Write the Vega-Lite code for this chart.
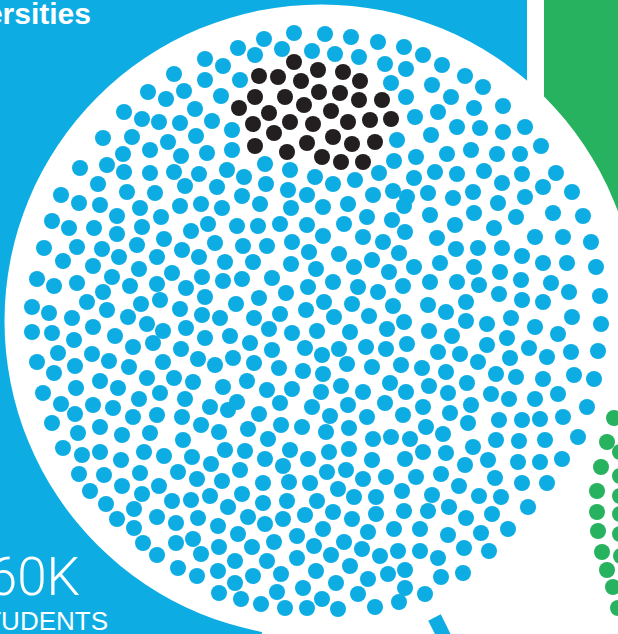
{
"$schema":"https://vega.github.io/schema/vega-lite/v6.json",
"width":618,"height":634,"padding":0,"autosize":{"type":"none"},
"background":"white",
"config":{"view":{"stroke":null}},
"datasets":{
"panels":[{"panel":"universities","x0":0,"x1":527,"y0":0,"y1":634},{"panel":"other","x0":544,"x1":618,"y0":0,"y1":320}],
"black":[{"x":294,"y":62},{"x":318,"y":70},{"x":343,"y":72},{"x":259,"y":76},{"x":278,"y":77},{"x":301,"y":81},{"x":360,"y":81},{"x":319,"y":92},{"x":340,"y":93},{"x":255,"y":97},{"x":285,"y":97},{"x":359,"y":100},{"x":382,"y":100},{"x":304,"y":105},{"x":239,"y":108},{"x":331,"y":111},{"x":269,"y":113},{"x":290,"y":122},{"x":313,"y":124},{"x":348,"y":122},{"x":370,"y":120},{"x":391,"y":119},{"x":253,"y":124},{"x":274,"y":133},{"x":333,"y":137},{"x":307,"y":143},{"x":352,"y":144},{"x":375,"y":142},{"x":255,"y":146},{"x":287,"y":152},{"x":322,"y":157},{"x":341,"y":162},{"x":363,"y":162}],
"green":[{"x":614,"y":418},{"x":607,"y":442},{"x":620,"y":452},{"x":601,"y":467},{"x":620,"y":476},{"x":597,"y":491},{"x":620,"y":496},{"x":597,"y":512},{"x":620,"y":514},{"x":598,"y":531},{"x":620,"y":534},{"x":602,"y":552},{"x":621,"y":556},{"x":607,"y":570},{"x":613,"y":587},{"x":618,"y":608}],
"blue":[
{"x":174,"y":74},{"x":148,"y":92},{"x":184,"y":91},{"x":166,"y":99},{"x":195,"y":109},{"x":124,"y":112},{"x":142,"y":119},{"x":159,"y":122},{"x":180,"y":123},{"x":103,"y":138},{"x":132,"y":137},{"x":168,"y":142},{"x":196,"y":136},{"x":123,"y":154},{"x":150,"y":150},{"x":181,"y":156},{"x":80,"y":168},{"x":107,"y":165},{"x":124,"y":172},{"x":150,"y":173},{"x":174,"y":172},{"x":199,"y":174},{"x":98,"y":184},{"x":127,"y":192},{"x":155,"y":193},{"x":185,"y":186},{"x":61,"y":195},
{"x":294,"y":33},{"x":325,"y":34},{"x":351,"y":37},{"x":264,"y":39},{"x":378,"y":42},{"x":238,"y":48},{"x":282,"y":49},{"x":312,"y":51},{"x":255,"y":55},{"x":335,"y":54},{"x":359,"y":57},{"x":205,"y":59},{"x":223,"y":66},{"x":385,"y":64},{"x":205,"y":80},{"x":240,"y":80},{"x":391,"y":83},{"x":221,"y":96},{"x":212,"y":121},{"x":232,"y":130},{"x":397,"y":140},{"x":207,"y":153},{"x":232,"y":150},{"x":394,"y":161},{"x":265,"y":164},{"x":227,"y":170},{"x":290,"y":170},{"x":379,"y":173},{"x":244,"y":177},{"x":315,"y":177},{"x":355,"y":180},{"x":333,"y":184},{"x":266,"y":184},{"x":217,"y":187},{"x":288,"y":190},{"x":393,"y":191},{"x":242,"y":196},{"x":307,"y":195},{"x":373,"y":195},{"x":404,"y":47},{"x":406,"y":69},{"x":406,"y":97},{"x":407,"y":197},
{"x":423,"y":55},{"x":442,"y":65},{"x":465,"y":76},{"x":483,"y":87},{"x":432,"y":85},{"x":451,"y":97},{"x":503,"y":106},{"x":474,"y":108},{"x":438,"y":112},{"x":415,"y":117},{"x":525,"y":127},{"x":457,"y":127},{"x":480,"y":128},{"x":503,"y":132},{"x":431,"y":135},{"x":541,"y":146},{"x":471,"y":150},{"x":447,"y":154},{"x":497,"y":154},{"x":520,"y":154},{"x":416,"y":157},{"x":556,"y":173},{"x":435,"y":172},{"x":457,"y":174},{"x":484,"y":171},{"x":522,"y":174},{"x":414,"y":178},{"x":502,"y":183},{"x":543,"y":187},{"x":572,"y":192},{"x":428,"y":193},{"x":453,"y":198},{"x":473,"y":192},{"x":525,"y":197},
{"x":79,"y":203},{"x":100,"y":205},{"x":140,"y":208},{"x":180,"y":206},{"x":52,"y":221},{"x":69,"y":228},{"x":94,"y":228},{"x":117,"y":216},{"x":142,"y":227},{"x":161,"y":217},{"x":191,"y":231},{"x":44,"y":248},{"x":77,"y":247},{"x":102,"y":249},{"x":117,"y":234},{"x":137,"y":245},{"x":164,"y":239},{"x":182,"y":250},{"x":63,"y":261},{"x":93,"y":266},{"x":119,"y":257},{"x":139,"y":269},{"x":157,"y":257},{"x":199,"y":257},{"x":37,"y":279},{"x":54,"y":286},{"x":77,"y":283},{"x":112,"y":277},{"x":130,"y":286},{"x":157,"y":284},{"x":172,"y":273},{"x":186,"y":288},{"x":32,"y":307},{"x":49,"y":313},{"x":87,"y":302},{"x":103,"y":292},{"x":107,"y":310},{"x":141,"y":304},{"x":160,"y":300},{"x":180,"y":309},{"x":72,"y":318},{"x":93,"y":327},{"x":128,"y":317},{"x":147,"y":324},{"x":163,"y":331},{"x":186,"y":328},{"x":32,"y":332},{"x":52,"y":333},{"x":74,"y":340},{"x":115,"y":336},{"x":133,"y":347},{"x":153,"y":343},{"x":181,"y":349},{"x":58,"y":353},{"x":92,"y":354},{"x":109,"y":361},{"x":37,"y":362},{"x":75,"y":366},{"x":129,"y":367},{"x":163,"y":362},{"x":198,"y":359},{"x":54,"y":373},{"x":100,"y":381},{"x":147,"y":378},{"x":174,"y":378},{"x":193,"y":382},{"x":43,"y":393},{"x":76,"y":388},{"x":118,"y":388},{"x":139,"y":399},{"x":160,"y":393},{"x":185,"y":399},
{"x":222,"y":208},{"x":260,"y":204},{"x":291,"y":208},{"x":323,"y":207},{"x":348,"y":204},{"x":201,"y":204},{"x":208,"y":224},{"x":237,"y":226},{"x":258,"y":226},{"x":280,"y":224},{"x":307,"y":225},{"x":344,"y":224},{"x":367,"y":217},{"x":392,"y":220},{"x":215,"y":243},{"x":243,"y":246},{"x":267,"y":246},{"x":292,"y":242},{"x":323,"y":236},{"x":363,"y":237},{"x":383,"y":242},{"x":225,"y":262},{"x":253,"y":262},{"x":291,"y":264},{"x":309,"y":252},{"x":339,"y":254},{"x":372,"y":260},{"x":399,"y":253},{"x":202,"y":277},{"x":223,"y":281},{"x":242,"y":279},{"x":272,"y":278},{"x":316,"y":269},{"x":354,"y":267},{"x":389,"y":272},{"x":333,"y":282},{"x":205,"y":297},{"x":259,"y":298},{"x":286,"y":293},{"x":308,"y":287},{"x":358,"y":287},{"x":378,"y":292},{"x":236,"y":304},{"x":324,"y":302},{"x":352,"y":304},{"x":393,"y":306},{"x":202,"y":315},{"x":220,"y":318},{"x":254,"y":318},{"x":280,"y":314},{"x":306,"y":310},{"x":334,"y":317},{"x":369,"y":316},{"x":205,"y":338},{"x":230,"y":336},{"x":269,"y":329},{"x":292,"y":333},{"x":317,"y":331},{"x":350,"y":332},{"x":387,"y":329},{"x":250,"y":343},{"x":272,"y":350},{"x":305,"y":348},{"x":322,"y":355},{"x":339,"y":349},{"x":366,"y":347},{"x":386,"y":349},{"x":233,"y":358},{"x":215,"y":365},{"x":254,"y":363},{"x":279,"y":368},{"x":303,"y":371},{"x":323,"y":374},{"x":347,"y":364},{"x":372,"y":367},{"x":401,"y":365},{"x":247,"y":381},{"x":223,"y":387},{"x":267,"y":390},{"x":292,"y":389},{"x":321,"y":392},{"x":341,"y":386},{"x":363,"y":392},{"x":390,"y":383},{"x":406,"y":392},{"x":404,"y":206},{"x":405,"y":232},{"x":403,"y":286},{"x":404,"y":322},{"x":407,"y":344},
{"x":498,"y":203},{"x":430,"y":215},{"x":474,"y":213},{"x":516,"y":217},{"x":553,"y":213},{"x":583,"y":216},{"x":455,"y":225},{"x":494,"y":228},{"x":437,"y":238},{"x":535,"y":237},{"x":563,"y":237},{"x":591,"y":242},{"x":456,"y":249},{"x":478,"y":248},{"x":502,"y":248},{"x":522,"y":256},{"x":414,"y":267},{"x":440,"y":263},{"x":474,"y":267},{"x":500,"y":272},{"x":543,"y":263},{"x":567,"y":263},{"x":596,"y":267},{"x":430,"y":282},{"x":457,"y":282},{"x":479,"y":285},{"x":521,"y":280},{"x":551,"y":283},{"x":499,"y":294},{"x":522,"y":300},{"x":543,"y":302},{"x":569,"y":292},{"x":600,"y":296},{"x":428,"y":305},{"x":466,"y":302},{"x":446,"y":312},{"x":429,"y":331},{"x":466,"y":321},{"x":487,"y":324},{"x":511,"y":318},{"x":535,"y":327},{"x":572,"y":317},{"x":601,"y":324},{"x":452,"y":336},{"x":487,"y":345},{"x":507,"y":338},{"x":529,"y":348},{"x":558,"y":334},{"x":438,"y":352},{"x":460,"y":354},{"x":478,"y":362},{"x":510,"y":358},{"x":547,"y":357},{"x":571,"y":352},{"x":598,"y":351},{"x":422,"y":368},{"x":446,"y":372},{"x":496,"y":374},{"x":516,"y":377},{"x":543,"y":379},{"x":574,"y":375},{"x":594,"y":379},{"x":429,"y":386},{"x":448,"y":393},{"x":467,"y":383},{"x":491,"y":394},{"x":509,"y":399},{"x":535,"y":399},{"x":558,"y":394},
{"x":61,"y":404},{"x":75,"y":414},{"x":93,"y":405},{"x":113,"y":408},{"x":133,"y":417},{"x":157,"y":415},{"x":182,"y":417},{"x":52,"y":423},{"x":78,"y":433},{"x":100,"y":427},{"x":122,"y":435},{"x":150,"y":433},{"x":183,"y":440},{"x":201,"y":425},{"x":63,"y":448},{"x":82,"y":455},{"x":100,"y":452},{"x":121,"y":460},{"x":144,"y":452},{"x":164,"y":456},{"x":192,"y":457},{"x":79,"y":474},{"x":104,"y":475},{"x":140,"y":473},{"x":178,"y":472},{"x":197,"y":479},{"x":90,"y":491},{"x":122,"y":486},{"x":159,"y":486},{"x":142,"y":494},{"x":106,"y":504},{"x":134,"y":509},{"x":172,"y":501},{"x":191,"y":500},{"x":117,"y":519},{"x":157,"y":517},{"x":176,"y":523},{"x":198,"y":518},{"x":134,"y":528},{"x":143,"y":543},{"x":176,"y":543},{"x":193,"y":539},{"x":157,"y":555},{"x":201,"y":554},{"x":178,"y":568},{"x":197,"y":576},
{"x":210,"y":407},{"x":228,"y":410},{"x":237,"y":402},{"x":259,"y":414},{"x":280,"y":403},{"x":312,"y":407},{"x":330,"y":416},{"x":348,"y":405},{"x":367,"y":417},{"x":385,"y":403},{"x":403,"y":415},{"x":219,"y":432},{"x":248,"y":429},{"x":281,"y":425},{"x":302,"y":427},{"x":326,"y":432},{"x":349,"y":428},{"x":373,"y":439},{"x":391,"y":437},{"x":268,"y":439},{"x":225,"y":450},{"x":245,"y":451},{"x":290,"y":450},{"x":329,"y":452},{"x":349,"y":449},{"x":405,"y":459},{"x":211,"y":464},{"x":265,"y":459},{"x":308,"y":459},{"x":372,"y":460},{"x":240,"y":470},{"x":283,"y":466},{"x":327,"y":472},{"x":346,"y":470},{"x":222,"y":481},{"x":263,"y":483},{"x":289,"y":482},{"x":310,"y":483},{"x":338,"y":489},{"x":363,"y":479},{"x":386,"y":477},{"x":402,"y":491},{"x":210,"y":496},{"x":242,"y":494},{"x":354,"y":497},{"x":376,"y":497},{"x":228,"y":507},{"x":263,"y":503},{"x":287,"y":501},{"x":317,"y":501},{"x":333,"y":512},{"x":376,"y":514},{"x":404,"y":511},{"x":248,"y":517},{"x":283,"y":519},{"x":305,"y":515},{"x":352,"y":519},{"x":218,"y":526},{"x":265,"y":524},{"x":323,"y":529},{"x":368,"y":532},{"x":394,"y":529},{"x":238,"y":534},{"x":297,"y":536},{"x":274,"y":542},{"x":344,"y":542},{"x":219,"y":547},{"x":252,"y":547},{"x":314,"y":546},{"x":362,"y":549},{"x":380,"y":556},{"x":398,"y":551},{"x":331,"y":555},{"x":235,"y":561},{"x":267,"y":561},{"x":297,"y":558},{"x":350,"y":566},{"x":218,"y":571},{"x":253,"y":576},{"x":281,"y":574},{"x":316,"y":571},{"x":368,"y":579},{"x":388,"y":574},{"x":405,"y":570},{"x":235,"y":583},{"x":303,"y":588},{"x":336,"y":583},{"x":219,"y":593},{"x":277,"y":592},{"x":322,"y":599},{"x":358,"y":594},{"x":405,"y":588},{"x":241,"y":599},{"x":261,"y":604},{"x":285,"y":608},{"x":307,"y":608},{"x":338,"y":609},{"x":375,"y":607},{"x":399,"y":602},
{"x":423,"y":407},{"x":450,"y":413},{"x":471,"y":405},{"x":587,"y":407},{"x":426,"y":427},{"x":468,"y":423},{"x":499,"y":420},{"x":522,"y":420},{"x":540,"y":419},{"x":563,"y":417},{"x":410,"y":439},{"x":443,"y":434},{"x":473,"y":447},{"x":496,"y":440},{"x":519,"y":441},{"x":545,"y":440},{"x":578,"y":437},{"x":423,"y":452},{"x":446,"y":453},{"x":465,"y":465},{"x":488,"y":460},{"x":518,"y":462},{"x":540,"y":462},{"x":562,"y":459},{"x":416,"y":477},{"x":441,"y":474},{"x":459,"y":486},{"x":495,"y":478},{"x":522,"y":483},{"x":547,"y":483},{"x":432,"y":495},{"x":479,"y":496},{"x":501,"y":497},{"x":428,"y":511},{"x":449,"y":507},{"x":492,"y":514},{"x":528,"y":507},{"x":466,"y":518},{"x":420,"y":529},{"x":448,"y":535},{"x":481,"y":533},{"x":508,"y":529},{"x":420,"y":551},{"x":438,"y":558},{"x":464,"y":548},{"x":489,"y":551},{"x":441,"y":577},{"x":463,"y":573},{"x":425,"y":594}
]
},
"layer":[
{"data":{"name":"panels"},"mark":{"type":"rect"},
 "encoding":{
  "x":{"field":"x0","type":"quantitative","scale":{"domain":[0,618],"range":[0,618],"nice":false,"zero":false},"axis":null},
  "x2":{"field":"x1"},
  "y":{"field":"y0","type":"quantitative","scale":{"domain":[0,634],"range":[0,634],"nice":false,"zero":false},"axis":null},
  "y2":{"field":"y1"},
  "color":{"field":"panel","type":"nominal","scale":{"domain":["universities","other"],"range":["#0DADE4","#27B25F"]},"legend":null}}},
{"data":{"values":[{"x":620,"y":760}]},"mark":{"type":"circle","size":577600,"color":"white","opacity":1},
 "encoding":{
  "x":{"field":"x","type":"quantitative","scale":{"domain":[0,618],"range":[0,618],"nice":false,"zero":false},"axis":null},
  "y":{"field":"y","type":"quantitative","scale":{"domain":[0,634],"range":[0,634],"nice":false,"zero":false},"axis":null}}},
{"data":{"values":[{"x":321,"y":321}]},"mark":{"type":"circle","size":400689,"color":"white","opacity":1},
 "encoding":{
  "x":{"field":"x","type":"quantitative","scale":{"domain":[0,618],"range":[0,618],"nice":false,"zero":false},"axis":null},
  "y":{"field":"y","type":"quantitative","scale":{"domain":[0,634],"range":[0,634],"nice":false,"zero":false},"axis":null}}},
{"data":{"values":[{"x":434.5,"y":617.5,"x2":452,"y2":652.5}]},"mark":{"type":"rule","color":"#0DADE4","strokeWidth":14,"strokeCap":"butt"},
 "encoding":{
  "x":{"field":"x","type":"quantitative","scale":{"domain":[0,618],"range":[0,618],"nice":false,"zero":false},"axis":null},
  "y":{"field":"y","type":"quantitative","scale":{"domain":[0,634],"range":[0,634],"nice":false,"zero":false},"axis":null},
  "x2":{"field":"x2"},"y2":{"field":"y2"}}},
{"data":{"name":"blue"},"mark":{"type":"circle","size":258,"color":"#0DADE4","opacity":1},
 "encoding":{
  "x":{"field":"x","type":"quantitative","scale":{"domain":[0,618],"range":[0,618],"nice":false,"zero":false},"axis":null},
  "y":{"field":"y","type":"quantitative","scale":{"domain":[0,634],"range":[0,634],"nice":false,"zero":false},"axis":null}}},
{"data":{"name":"black"},"mark":{"type":"circle","size":258,"color":"#231F20","opacity":1},
 "encoding":{
  "x":{"field":"x","type":"quantitative","scale":{"domain":[0,618],"range":[0,618],"nice":false,"zero":false},"axis":null},
  "y":{"field":"y","type":"quantitative","scale":{"domain":[0,634],"range":[0,634],"nice":false,"zero":false},"axis":null}}},
{"data":{"name":"green"},"mark":{"type":"circle","size":258,"color":"#27B25F","opacity":1},
 "encoding":{
  "x":{"field":"x","type":"quantitative","scale":{"domain":[0,618],"range":[0,618],"nice":false,"zero":false},"axis":null},
  "y":{"field":"y","type":"quantitative","scale":{"domain":[0,634],"range":[0,634],"nice":false,"zero":false},"axis":null}}},
{"data":{"values":[{"x":91,"y":24,"t":"Universities"}]},"mark":{"type":"text","font":"Liberation Sans","fontWeight":"bold","fontSize":30,"align":"right","baseline":"alphabetic","color":"white"},
 "encoding":{
  "x":{"field":"x","type":"quantitative","scale":{"domain":[0,618],"range":[0,618],"nice":false,"zero":false},"axis":null},
  "y":{"field":"y","type":"quantitative","scale":{"domain":[0,634],"range":[0,634],"nice":false,"zero":false},"axis":null},
  "text":{"field":"t"}}},
{"data":{"values":[{"x":80,"y":595,"t":"160K"}]},"mark":{"type":"text","font":"Roboto","fontWeight":300,"fontSize":53,"align":"right","baseline":"alphabetic","color":"white"},
 "encoding":{
  "x":{"field":"x","type":"quantitative","scale":{"domain":[0,618],"range":[0,618],"nice":false,"zero":false},"axis":null},
  "y":{"field":"y","type":"quantitative","scale":{"domain":[0,634],"range":[0,634],"nice":false,"zero":false},"axis":null},
  "text":{"field":"t"}}},
{"data":{"values":[{"x":108,"y":630,"t":"STUDENTS"}]},"mark":{"type":"text","font":"Liberation Sans","fontSize":26,"align":"right","baseline":"alphabetic","color":"white"},
 "encoding":{
  "x":{"field":"x","type":"quantitative","scale":{"domain":[0,618],"range":[0,618],"nice":false,"zero":false},"axis":null},
  "y":{"field":"y","type":"quantitative","scale":{"domain":[0,634],"range":[0,634],"nice":false,"zero":false},"axis":null},
  "text":{"field":"t"}}}
]
}
